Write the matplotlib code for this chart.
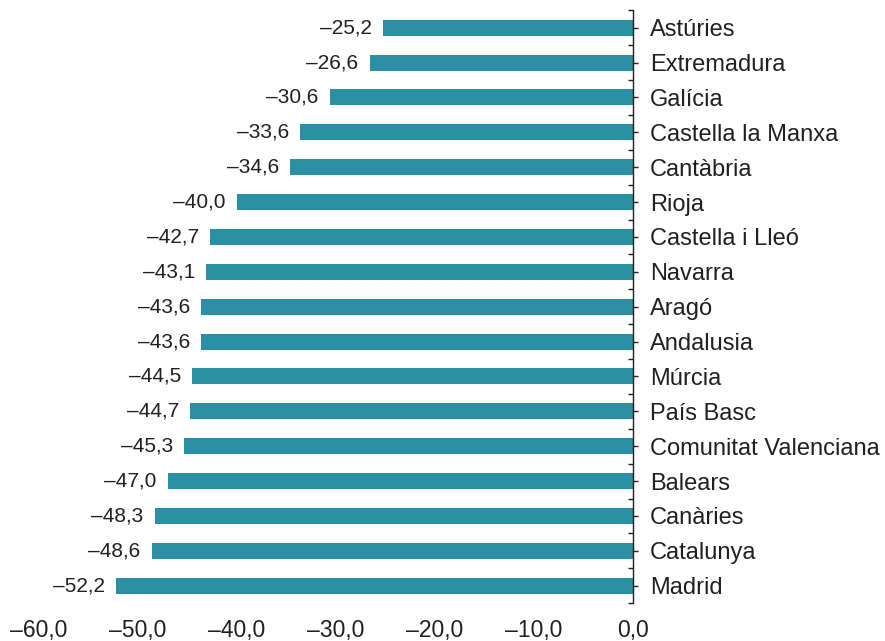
import matplotlib.pyplot as plt
from matplotlib.ticker import FixedLocator, FuncFormatter

regions = ["Astúries", "Extremadura", "Galícia", "Castella la Manxa", "Cantàbria",
           "Rioja", "Castella i Lleó", "Navarra", "Aragó", "Andalusia", "Múrcia",
           "País Basc", "Comunitat Valenciana", "Balears", "Canàries", "Catalunya", "Madrid"]
values = [-25.2, -26.6, -30.6, -33.6, -34.6, -40.0, -42.7, -43.1, -43.6, -43.6,
          -44.5, -44.7, -45.3, -47.0, -48.3, -48.6, -52.2]
x_ticks = [-60, -50, -40, -30, -20, -10, 0]

bar_color = "#2a8fa3"
text_color = "#231f20"

def fmt(v):
    s = f"{abs(v):.1f}".replace(".", ",")
    return ("\u2013" + s) if v < 0 else s

plt.rcParams['font.family'] = ['Liberation Sans', 'DejaVu Sans']

fig = plt.figure(figsize=(8.85, 6.41), dpi=100)
ax = fig.add_axes([0.044, 0.059, 0.671, 0.925])

pos = list(range(len(regions)))
ax.barh(pos, values, height=0.46, color=bar_color)

for p, v in zip(pos, values):
    ax.annotate(fmt(v), xy=(v, p), xytext=(-8, 0), textcoords="offset points",
                ha="right", va="center", fontsize=15, color=text_color)

ax.set_xlim(-60, 0)
ax.set_ylim(len(regions) - 0.5, -0.5)

for s in ["top", "bottom", "left"]:
    ax.spines[s].set_visible(False)
ax.spines["right"].set_color(text_color)
ax.spines["right"].set_linewidth(1.0)

ax.yaxis.tick_right()
ax.set_yticks(pos)
ax.set_yticklabels(regions)
ax.yaxis.set_minor_locator(FixedLocator([p - 0.5 for p in pos] + [len(regions) - 0.5]))
ax.tick_params(axis="y", which="major", direction="out", length=3.5, width=1.0,
               pad=9, labelsize=17, colors=text_color)
ax.tick_params(axis="y", which="minor", direction="in", length=3.5, width=1.0,
               colors=text_color)

ax.set_xticks(x_ticks)
ax.xaxis.set_major_formatter(FuncFormatter(lambda v, _: fmt(v)))
ax.tick_params(axis="x", length=0, pad=11.5, labelsize=16.5, colors=text_color)

fig.savefig("out.png", dpi=100)
